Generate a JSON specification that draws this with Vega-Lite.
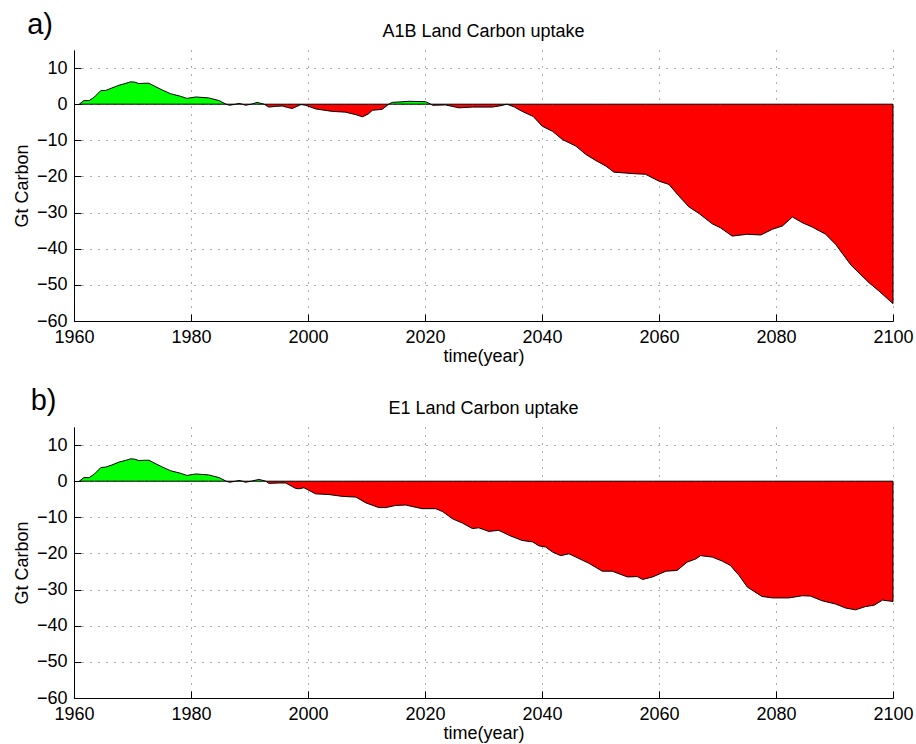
{
  "$schema": "https://vega.github.io/schema/vega-lite/v6.json",
  "padding": {"left": 13, "top": 11, "right": 2, "bottom": 2},
  "config": {
    "font": "Liberation Sans",
    "view": {"stroke": null},
    "axis": {
      "domainColor": "#000", "tickColor": "#000", "labelColor": "#000", "titleColor": "#000",
      "labelFontSize": 18, "titleFontSize": 18, "titleFontWeight": "normal",
      "gridColor": "#333", "gridDash": [1, 7], "gridOpacity": 0.8,
      "tickSize": -7, "tickWidth": 1, "labelPadding": 14, "labelFlush": false, "labelOverlap": false
    },
    "concat": {"spacing": 22}
  },
  "datasets": {
    "a": [
      {"t": 1960.9, "v": 0, "seg": "p1", "s": "pos"},
      {"t": 1961.7, "v": 1.0, "seg": "p1", "s": "pos"},
      {"t": 1962.6, "v": 1.0, "seg": "p1", "s": "pos"},
      {"t": 1963.5, "v": 2.0, "seg": "p1", "s": "pos"},
      {"t": 1964.6, "v": 3.8, "seg": "p1", "s": "pos"},
      {"t": 1965.4, "v": 3.8, "seg": "p1", "s": "pos"},
      {"t": 1966.5, "v": 4.5, "seg": "p1", "s": "pos"},
      {"t": 1967.7, "v": 5.25, "seg": "p1", "s": "pos"},
      {"t": 1968.7, "v": 5.7, "seg": "p1", "s": "pos"},
      {"t": 1969.7, "v": 6.2, "seg": "p1", "s": "pos"},
      {"t": 1970.4, "v": 6.1, "seg": "p1", "s": "pos"},
      {"t": 1971.1, "v": 5.7, "seg": "p1", "s": "pos"},
      {"t": 1972.0, "v": 5.8, "seg": "p1", "s": "pos"},
      {"t": 1972.8, "v": 5.8, "seg": "p1", "s": "pos"},
      {"t": 1974.0, "v": 4.8, "seg": "p1", "s": "pos"},
      {"t": 1975.0, "v": 4.0, "seg": "p1", "s": "pos"},
      {"t": 1976.5, "v": 2.9, "seg": "p1", "s": "pos"},
      {"t": 1978.2, "v": 2.2, "seg": "p1", "s": "pos"},
      {"t": 1979.3, "v": 1.6, "seg": "p1", "s": "pos"},
      {"t": 1980.8, "v": 2.0, "seg": "p1", "s": "pos"},
      {"t": 1983.0, "v": 1.75, "seg": "p1", "s": "pos"},
      {"t": 1984.8, "v": 1.0, "seg": "p1", "s": "pos"},
      {"t": 1986.0, "v": 0, "seg": "p1", "s": "pos"},
      {"t": 1986.0, "v": 0, "seg": "n1", "s": "neg"},
      {"t": 1986.6, "v": -0.3, "seg": "n1", "s": "neg"},
      {"t": 1987.6, "v": 0, "seg": "n1", "s": "neg"},
      {"t": 1987.6, "v": 0, "seg": "p2", "s": "pos"},
      {"t": 1988.2, "v": 0.2, "seg": "p2", "s": "pos"},
      {"t": 1988.8, "v": 0, "seg": "p2", "s": "pos"},
      {"t": 1988.8, "v": 0, "seg": "n2", "s": "neg"},
      {"t": 1989.3, "v": -0.3, "seg": "n2", "s": "neg"},
      {"t": 1990.3, "v": 0, "seg": "n2", "s": "neg"},
      {"t": 1990.3, "v": 0, "seg": "p3", "s": "pos"},
      {"t": 1991.3, "v": 0.5, "seg": "p3", "s": "pos"},
      {"t": 1992.5, "v": 0, "seg": "p3", "s": "pos"},
      {"t": 1992.5, "v": 0, "seg": "n3", "s": "neg"},
      {"t": 1993.3, "v": -0.8, "seg": "n3", "s": "neg"},
      {"t": 1994.5, "v": -0.6, "seg": "n3", "s": "neg"},
      {"t": 1995.6, "v": -0.5, "seg": "n3", "s": "neg"},
      {"t": 1996.5, "v": -0.9, "seg": "n3", "s": "neg"},
      {"t": 1997.3, "v": -1.2, "seg": "n3", "s": "neg"},
      {"t": 1998.8, "v": -0.1, "seg": "n3", "s": "neg"},
      {"t": 1999.6, "v": -0.3, "seg": "n3", "s": "neg"},
      {"t": 2001.3, "v": -1.3, "seg": "n3", "s": "neg"},
      {"t": 2002.5, "v": -1.6, "seg": "n3", "s": "neg"},
      {"t": 2004.2, "v": -2.0, "seg": "n3", "s": "neg"},
      {"t": 2006.4, "v": -2.2, "seg": "n3", "s": "neg"},
      {"t": 2008.2, "v": -2.9, "seg": "n3", "s": "neg"},
      {"t": 2009.3, "v": -3.5, "seg": "n3", "s": "neg"},
      {"t": 2010.3, "v": -2.7, "seg": "n3", "s": "neg"},
      {"t": 2011.0, "v": -1.7, "seg": "n3", "s": "neg"},
      {"t": 2012.7, "v": -1.4, "seg": "n3", "s": "neg"},
      {"t": 2013.8, "v": 0, "seg": "n3", "s": "neg"},
      {"t": 2013.8, "v": 0, "seg": "p4", "s": "pos"},
      {"t": 2014.4, "v": 0.5, "seg": "p4", "s": "pos"},
      {"t": 2017.3, "v": 0.8, "seg": "p4", "s": "pos"},
      {"t": 2020.1, "v": 0.7, "seg": "p4", "s": "pos"},
      {"t": 2021.0, "v": 0, "seg": "p4", "s": "pos"},
      {"t": 2021.0, "v": 0, "seg": "n4", "s": "neg"},
      {"t": 2021.3, "v": -0.3, "seg": "n4", "s": "neg"},
      {"t": 2023.5, "v": -0.2, "seg": "n4", "s": "neg"},
      {"t": 2025.8, "v": -1.0, "seg": "n4", "s": "neg"},
      {"t": 2028.1, "v": -0.8, "seg": "n4", "s": "neg"},
      {"t": 2031.5, "v": -0.8, "seg": "n4", "s": "neg"},
      {"t": 2033.0, "v": -0.4, "seg": "n4", "s": "neg"},
      {"t": 2034.0, "v": 0, "seg": "n4", "s": "neg"},
      {"t": 2035.3, "v": -0.8, "seg": "n4", "s": "neg"},
      {"t": 2036.5, "v": -1.9, "seg": "n4", "s": "neg"},
      {"t": 2038.5, "v": -3.4, "seg": "n4", "s": "neg"},
      {"t": 2040.05, "v": -6.1, "seg": "n4", "s": "neg"},
      {"t": 2041.8, "v": -7.5, "seg": "n4", "s": "neg"},
      {"t": 2043.5, "v": -9.8, "seg": "n4", "s": "neg"},
      {"t": 2045.8, "v": -11.6, "seg": "n4", "s": "neg"},
      {"t": 2047.5, "v": -13.9, "seg": "n4", "s": "neg"},
      {"t": 2049.2, "v": -15.6, "seg": "n4", "s": "neg"},
      {"t": 2050.9, "v": -17.1, "seg": "n4", "s": "neg"},
      {"t": 2052.3, "v": -18.8, "seg": "n4", "s": "neg"},
      {"t": 2055.4, "v": -19.2, "seg": "n4", "s": "neg"},
      {"t": 2057.7, "v": -19.4, "seg": "n4", "s": "neg"},
      {"t": 2060.0, "v": -21.3, "seg": "n4", "s": "neg"},
      {"t": 2061.7, "v": -22.2, "seg": "n4", "s": "neg"},
      {"t": 2063.4, "v": -25.4, "seg": "n4", "s": "neg"},
      {"t": 2065.1, "v": -28.4, "seg": "n4", "s": "neg"},
      {"t": 2066.8, "v": -30.2, "seg": "n4", "s": "neg"},
      {"t": 2069.1, "v": -33.1, "seg": "n4", "s": "neg"},
      {"t": 2070.5, "v": -34.2, "seg": "n4", "s": "neg"},
      {"t": 2072.5, "v": -36.5, "seg": "n4", "s": "neg"},
      {"t": 2075.1, "v": -36.0, "seg": "n4", "s": "neg"},
      {"t": 2077.4, "v": -36.2, "seg": "n4", "s": "neg"},
      {"t": 2079.4, "v": -34.6, "seg": "n4", "s": "neg"},
      {"t": 2081.1, "v": -33.7, "seg": "n4", "s": "neg"},
      {"t": 2082.8, "v": -31.2, "seg": "n4", "s": "neg"},
      {"t": 2084.5, "v": -32.8, "seg": "n4", "s": "neg"},
      {"t": 2086.2, "v": -34.0, "seg": "n4", "s": "neg"},
      {"t": 2088.5, "v": -36.0, "seg": "n4", "s": "neg"},
      {"t": 2090.2, "v": -38.8, "seg": "n4", "s": "neg"},
      {"t": 2092.8, "v": -44.5, "seg": "n4", "s": "neg"},
      {"t": 2095.9, "v": -49.4, "seg": "n4", "s": "neg"},
      {"t": 2097.6, "v": -51.7, "seg": "n4", "s": "neg"},
      {"t": 2100.0, "v": -55.2, "seg": "n4", "s": "neg"}
    ],
    "b": [
      {"t": 1960.9, "v": 0, "seg": "p1", "s": "pos"},
      {"t": 1961.7, "v": 1.0, "seg": "p1", "s": "pos"},
      {"t": 1962.6, "v": 1.0, "seg": "p1", "s": "pos"},
      {"t": 1963.5, "v": 2.0, "seg": "p1", "s": "pos"},
      {"t": 1964.6, "v": 3.8, "seg": "p1", "s": "pos"},
      {"t": 1965.4, "v": 3.9, "seg": "p1", "s": "pos"},
      {"t": 1966.5, "v": 4.5, "seg": "p1", "s": "pos"},
      {"t": 1967.7, "v": 5.3, "seg": "p1", "s": "pos"},
      {"t": 1968.7, "v": 5.7, "seg": "p1", "s": "pos"},
      {"t": 1969.7, "v": 6.2, "seg": "p1", "s": "pos"},
      {"t": 1970.4, "v": 6.1, "seg": "p1", "s": "pos"},
      {"t": 1971.1, "v": 5.7, "seg": "p1", "s": "pos"},
      {"t": 1972.0, "v": 5.8, "seg": "p1", "s": "pos"},
      {"t": 1972.8, "v": 5.8, "seg": "p1", "s": "pos"},
      {"t": 1974.0, "v": 4.8, "seg": "p1", "s": "pos"},
      {"t": 1975.0, "v": 4.0, "seg": "p1", "s": "pos"},
      {"t": 1976.5, "v": 2.9, "seg": "p1", "s": "pos"},
      {"t": 1978.2, "v": 2.2, "seg": "p1", "s": "pos"},
      {"t": 1979.3, "v": 1.6, "seg": "p1", "s": "pos"},
      {"t": 1980.8, "v": 2.0, "seg": "p1", "s": "pos"},
      {"t": 1983.0, "v": 1.75, "seg": "p1", "s": "pos"},
      {"t": 1984.8, "v": 1.0, "seg": "p1", "s": "pos"},
      {"t": 1986.0, "v": 0, "seg": "p1", "s": "pos"},
      {"t": 1986.0, "v": 0, "seg": "n1", "s": "neg"},
      {"t": 1986.6, "v": -0.3, "seg": "n1", "s": "neg"},
      {"t": 1987.6, "v": 0, "seg": "n1", "s": "neg"},
      {"t": 1987.6, "v": 0, "seg": "p2", "s": "pos"},
      {"t": 1988.2, "v": 0.2, "seg": "p2", "s": "pos"},
      {"t": 1988.8, "v": 0, "seg": "p2", "s": "pos"},
      {"t": 1988.8, "v": 0, "seg": "n2", "s": "neg"},
      {"t": 1989.3, "v": -0.3, "seg": "n2", "s": "neg"},
      {"t": 1990.3, "v": 0, "seg": "n2", "s": "neg"},
      {"t": 1990.3, "v": 0, "seg": "p3", "s": "pos"},
      {"t": 1991.6, "v": 0.5, "seg": "p3", "s": "pos"},
      {"t": 1992.8, "v": 0, "seg": "p3", "s": "pos"},
      {"t": 1992.8, "v": 0, "seg": "n3", "s": "neg"},
      {"t": 1993.3, "v": -0.6, "seg": "n3", "s": "neg"},
      {"t": 1995.0, "v": -0.5, "seg": "n3", "s": "neg"},
      {"t": 1996.2, "v": -0.5, "seg": "n3", "s": "neg"},
      {"t": 1997.9, "v": -2.0, "seg": "n3", "s": "neg"},
      {"t": 1998.5, "v": -2.1, "seg": "n3", "s": "neg"},
      {"t": 1999.3, "v": -1.8, "seg": "n3", "s": "neg"},
      {"t": 2001.3, "v": -3.5, "seg": "n3", "s": "neg"},
      {"t": 2003.6, "v": -3.7, "seg": "n3", "s": "neg"},
      {"t": 2005.9, "v": -4.2, "seg": "n3", "s": "neg"},
      {"t": 2008.2, "v": -4.4, "seg": "n3", "s": "neg"},
      {"t": 2009.9, "v": -6.0, "seg": "n3", "s": "neg"},
      {"t": 2012.1, "v": -7.3, "seg": "n3", "s": "neg"},
      {"t": 2013.3, "v": -7.3, "seg": "n3", "s": "neg"},
      {"t": 2015.0, "v": -6.7, "seg": "n3", "s": "neg"},
      {"t": 2016.7, "v": -6.6, "seg": "n3", "s": "neg"},
      {"t": 2019.5, "v": -7.6, "seg": "n3", "s": "neg"},
      {"t": 2021.8, "v": -7.6, "seg": "n3", "s": "neg"},
      {"t": 2023.0, "v": -8.4, "seg": "n3", "s": "neg"},
      {"t": 2024.7, "v": -10.4, "seg": "n3", "s": "neg"},
      {"t": 2026.4, "v": -11.6, "seg": "n3", "s": "neg"},
      {"t": 2028.1, "v": -13.1, "seg": "n3", "s": "neg"},
      {"t": 2029.2, "v": -12.9, "seg": "n3", "s": "neg"},
      {"t": 2030.9, "v": -13.9, "seg": "n3", "s": "neg"},
      {"t": 2032.6, "v": -13.6, "seg": "n3", "s": "neg"},
      {"t": 2034.4, "v": -15.0, "seg": "n3", "s": "neg"},
      {"t": 2036.6, "v": -16.4, "seg": "n3", "s": "neg"},
      {"t": 2038.4, "v": -16.8, "seg": "n3", "s": "neg"},
      {"t": 2039.5, "v": -17.9, "seg": "n3", "s": "neg"},
      {"t": 2040.6, "v": -18.2, "seg": "n3", "s": "neg"},
      {"t": 2041.8, "v": -19.6, "seg": "n3", "s": "neg"},
      {"t": 2043.2, "v": -20.6, "seg": "n3", "s": "neg"},
      {"t": 2044.6, "v": -20.1, "seg": "n3", "s": "neg"},
      {"t": 2045.8, "v": -21.0, "seg": "n3", "s": "neg"},
      {"t": 2048.0, "v": -22.7, "seg": "n3", "s": "neg"},
      {"t": 2050.3, "v": -24.9, "seg": "n3", "s": "neg"},
      {"t": 2052.0, "v": -24.9, "seg": "n3", "s": "neg"},
      {"t": 2054.6, "v": -26.5, "seg": "n3", "s": "neg"},
      {"t": 2056.3, "v": -26.4, "seg": "n3", "s": "neg"},
      {"t": 2057.2, "v": -27.2, "seg": "n3", "s": "neg"},
      {"t": 2058.9, "v": -26.5, "seg": "n3", "s": "neg"},
      {"t": 2061.2, "v": -24.9, "seg": "n3", "s": "neg"},
      {"t": 2063.1, "v": -24.7, "seg": "n3", "s": "neg"},
      {"t": 2064.8, "v": -22.4, "seg": "n3", "s": "neg"},
      {"t": 2066.3, "v": -21.5, "seg": "n3", "s": "neg"},
      {"t": 2067.1, "v": -20.6, "seg": "n3", "s": "neg"},
      {"t": 2069.1, "v": -21.0, "seg": "n3", "s": "neg"},
      {"t": 2070.8, "v": -22.1, "seg": "n3", "s": "neg"},
      {"t": 2072.2, "v": -23.3, "seg": "n3", "s": "neg"},
      {"t": 2073.7, "v": -26.1, "seg": "n3", "s": "neg"},
      {"t": 2075.1, "v": -29.3, "seg": "n3", "s": "neg"},
      {"t": 2077.6, "v": -31.9, "seg": "n3", "s": "neg"},
      {"t": 2079.4, "v": -32.3, "seg": "n3", "s": "neg"},
      {"t": 2082.2, "v": -32.3, "seg": "n3", "s": "neg"},
      {"t": 2084.5, "v": -31.7, "seg": "n3", "s": "neg"},
      {"t": 2085.9, "v": -31.8, "seg": "n3", "s": "neg"},
      {"t": 2087.9, "v": -33.1, "seg": "n3", "s": "neg"},
      {"t": 2090.2, "v": -34.0, "seg": "n3", "s": "neg"},
      {"t": 2091.9, "v": -35.1, "seg": "n3", "s": "neg"},
      {"t": 2093.6, "v": -35.6, "seg": "n3", "s": "neg"},
      {"t": 2095.3, "v": -34.7, "seg": "n3", "s": "neg"},
      {"t": 2096.8, "v": -34.3, "seg": "n3", "s": "neg"},
      {"t": 2098.2, "v": -32.9, "seg": "n3", "s": "neg"},
      {"t": 2100.0, "v": -33.3, "seg": "n3", "s": "neg"}
    ]
  },
  "vconcat": [
    {
      "width": 819,
      "height": 271,
      "layer": [
        {
          "data": {"name": "a"},
          "mark": {"type": "area", "stroke": "#000", "strokeWidth": 1, "opacity": 1},
          "encoding": {
            "x": {"field": "t", "type": "quantitative", "scale": {"domain": [1960, 2100], "nice": false, "zero": false},
                  "axis": {"values": [1960, 1980, 2000, 2020, 2040, 2060, 2080, 2100], "format": "d", "title": "time(year)", "titlePadding": 1}},
            "y": {"field": "v", "type": "quantitative", "scale": {"domain": [-60, 15], "nice": false},
                  "axis": {"values": [-60, -50, -40, -30, -20, -10, 0, 10], "title": "Gt Carbon", "titlePadding": 5}},
            "y2": {"datum": 0},
            "color": {"field": "s", "type": "nominal", "scale": {"domain": ["pos", "neg"], "range": ["#00ff00", "#ff0000"]}, "legend": null},
            "detail": {"field": "seg"}
          }
        },
        {
          "data": {"values": [{}]},
          "mark": {"type": "text", "text": "A1B Land Carbon uptake", "fontSize": 18, "align": "center", "baseline": "alphabetic", "color": "#000"},
          "encoding": {
            "x": {"datum": 2030, "type": "quantitative",
                  "axis": {"values": [1960, 1980, 2000, 2020, 2040, 2060, 2080, 2100], "format": "d", "title": "time(year)", "titlePadding": 1}},
            "y": {"datum": 18.6, "type": "quantitative",
                  "axis": {"values": [-60, -50, -40, -30, -20, -10, 0, 10], "title": "Gt Carbon", "titlePadding": 5}}
          }
        },
        {
          "data": {"values": [{}]},
          "mark": {"type": "text", "text": "a)", "fontSize": 29, "align": "left", "baseline": "alphabetic", "color": "#000"},
          "encoding": {
            "x": {"datum": 1952, "type": "quantitative",
                  "axis": {"values": [1960, 1980, 2000, 2020, 2040, 2060, 2080, 2100], "format": "d", "title": "time(year)", "titlePadding": 1}},
            "y": {"datum": 19.4, "type": "quantitative",
                  "axis": {"values": [-60, -50, -40, -30, -20, -10, 0, 10], "title": "Gt Carbon", "titlePadding": 5}}
          }
        }
      ]
    },
    {
      "width": 819,
      "height": 271,
      "layer": [
        {
          "data": {"name": "b"},
          "mark": {"type": "area", "stroke": "#000", "strokeWidth": 1, "opacity": 1},
          "encoding": {
            "x": {"field": "t", "type": "quantitative", "scale": {"domain": [1960, 2100], "nice": false, "zero": false},
                  "axis": {"values": [1960, 1980, 2000, 2020, 2040, 2060, 2080, 2100], "format": "d", "title": "time(year)", "titlePadding": 1}},
            "y": {"field": "v", "type": "quantitative", "scale": {"domain": [-60, 15], "nice": false},
                  "axis": {"values": [-60, -50, -40, -30, -20, -10, 0, 10], "title": "Gt Carbon", "titlePadding": 5}},
            "y2": {"datum": 0},
            "color": {"field": "s", "type": "nominal", "scale": {"domain": ["pos", "neg"], "range": ["#00ff00", "#ff0000"]}, "legend": null},
            "detail": {"field": "seg"}
          }
        },
        {
          "data": {"values": [{}]},
          "mark": {"type": "text", "text": "E1 Land Carbon uptake", "fontSize": 18, "align": "center", "baseline": "alphabetic", "color": "#000"},
          "encoding": {
            "x": {"datum": 2030, "type": "quantitative",
                  "axis": {"values": [1960, 1980, 2000, 2020, 2040, 2060, 2080, 2100], "format": "d", "title": "time(year)", "titlePadding": 1}},
            "y": {"datum": 18.6, "type": "quantitative",
                  "axis": {"values": [-60, -50, -40, -30, -20, -10, 0, 10], "title": "Gt Carbon", "titlePadding": 5}}
          }
        },
        {
          "data": {"values": [{}]},
          "mark": {"type": "text", "text": "b)", "fontSize": 29, "align": "left", "baseline": "alphabetic", "color": "#000"},
          "encoding": {
            "x": {"datum": 1952.6, "type": "quantitative",
                  "axis": {"values": [1960, 1980, 2000, 2020, 2040, 2060, 2080, 2100], "format": "d", "title": "time(year)", "titlePadding": 1}},
            "y": {"datum": 19.7, "type": "quantitative",
                  "axis": {"values": [-60, -50, -40, -30, -20, -10, 0, 10], "title": "Gt Carbon", "titlePadding": 5}}
          }
        }
      ]
    }
  ]
}
